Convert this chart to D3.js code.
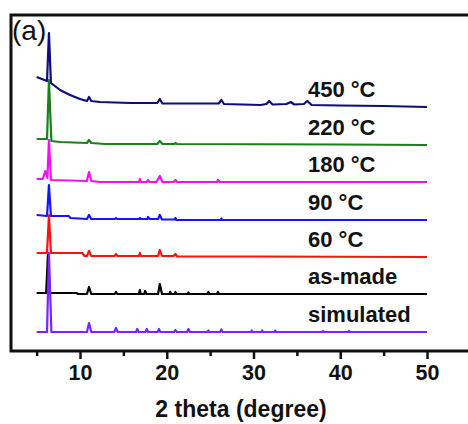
<!DOCTYPE html>
<html>
<head>
<meta charset="utf-8">
<script src="https://cdn.jsdelivr.net/npm/d3@7"></script>
<style>
  body { margin: 0; background: #fff; }
  svg text { font-family: "Liberation Sans", Arial, sans-serif; fill: #111; }
</style>
</head>
<body>
<script>
// sample names, bottom to top
var samples = ["simulated", "as-made", "60 °C", "90 °C", "180 °C", "220 °C", "450 °C"];
var colors = ["#7b22ff", "#000000", "#ff1010", "#1414ff", "#f010f0", "#1b7f1b", "#0d0d80"];
// vertical offset of each pattern (a.u.)
var offsets = [19, 57, 94, 131, 169, 206, 244];

// [2 theta, intensity above offset]
var simulated = [[5,0],[6.2,0],[6.42,79],[6.7,0],[10.8,0],[11.04,9],[11.3,0],[13.95,0],[14.15,4],[14.35,0],
  [16.45,0],[16.6,3],[16.75,0],[17.55,0],[17.7,3],[17.85,0],[18.95,0],[19.1,3],[19.25,0],[20.85,0],[21,2],[21.15,0],
  [22.35,0],[22.5,3],[22.65,0],[24.7,0],[24.8,1.5],[24.9,0],[26.15,0],[26.3,2.5],[26.45,0],[29.7,0],[29.8,1.5],[29.9,0],
  [30.9,0],[31,1.5],[31.1,0],[32.4,0],[32.5,1.5],[32.6,0],[37.9,0],[38,1],[38.1,0],[40.9,0],[41,1],[41.1,0],[50,0]];
var asMade = [[5,1],[6.1,1],[6.3,39],[6.5,1],[9.6,1],[9.8,0],[10.8,0],[11.04,7],[11.3,0],[14,0],[14.15,2],[14.3,0],
  [16.8,0],[16.9,4],[17,0],[17.4,0],[17.5,3],[17.65,0],[19,0],[19.2,10],[19.45,0],[20.3,0],[20.4,2],[20.5,0],
  [20.9,0],[21,2],[21.1,0],[22.4,0],[22.5,1.5],[22.6,0],[24.7,0],[24.8,2],[24.9,0],[25.8,0],[25.9,2],[26,0],[50,0]];
var t60 = [[5,4],[6.2,4],[6.42,42],[6.65,4],[10.3,4],[10.5,1],[10.8,1],[11.04,6],[11.3,1],[14,1],[14.15,3],[14.3,1],
  [16.8,1],[16.9,4],[17,1],[19,1],[19.2,7],[19.45,1],[20.8,1],[21,3],[21.2,0.5],[30,0.5],[50,0]];
var t90 = [[5,5],[6.2,4],[6.42,35],[6.65,4],[8.7,4],[8.9,2],[10.8,1],[11.04,5],[11.3,1],[14,1],[14.15,2],[14.3,1],
  [16.8,1],[16.9,2],[17,1],[17.75,1],[17.85,3],[18,1],[19,1],[19.2,5],[19.45,0.5],[20.9,0.5],[21,2],[21.1,0],
  [26.2,0],[26.3,1.5],[26.4,0],[50,0]];
var t180 = [[5,3],[5.7,3],[6,11],[6.25,4],[6.42,42],[6.65,2],[10.8,1],[11.04,10],[11.3,1],[12.3,0],
  [16.8,0],[16.9,3],[17,0],[17.7,0],[17.85,2],[18,0],[18.8,0],[19.2,6],[19.5,0],[20.8,0],[21,2],[21.2,0],
  [25.8,0],[25.9,2],[26.1,0],[50,0]];
var t220 = [[5,6],[6.2,6],[6.42,65],[6.7,4],[7.7,3],[10.8,2],[11.04,5],[11.3,2],[12.9,1],[18.9,1],[19.2,4],[19.5,1],
  [20.9,1],[21,2],[21.2,1],[40,0.5],[50,0]];
var t450 = [[5,30],[6.2,26],[6.42,74],[6.65,24],[7.7,17],[8.85,12],[10,8],[10.8,6],[11.04,10],[11.3,6],[12.3,5],
  [15.8,4],[18.9,4],[19.2,8],[19.5,3.5],[26,3.5],[26.3,7],[26.6,3],[30.8,2],[31.5,3],[31.8,6],[32.2,2.5],
  [33.8,3],[34.3,5],[34.7,2.5],[35.8,3],[36.2,6],[36.7,2],[40,1.5],[45,1],[50,0]];
var patterns = [simulated, asMade, t60, t90, t180, t220, t450];

var xTicks = [10, 20, 30, 40, 50];
var xMinor = [5, 15, 25, 35, 45];

var width = 468, height = 424;
var svg = d3.select("body").append("svg")
  .attr("width", width)
  .attr("height", height);

var xScale = d3.scaleLinear().domain([10, 50]).range([80, 427]);
var yScale = d3.scaleLinear().domain([0, 336]).range([351, 15]);

// frame (right side runs off the picture)
svg.append("rect")
  .attr("x", 11).attr("y", 15)
  .attr("width", 480).attr("height", 336)
  .attr("fill", "none")
  .attr("stroke", "#111")
  .attr("stroke-width", 3);

var line = d3.line()
  .x(d => xScale(d[0]))
  .y(d => yScale(d[1]));

// draw top pattern first so lower ones sit over it
for (var i = patterns.length - 1; i >= 0; i--) {
  var off = offsets[i];
  svg.append("path")
    .datum(patterns[i].map(p => [p[0], p[1] + off]))
    .attr("fill", "none")
    .attr("stroke", colors[i])
    .attr("stroke-width", 2.2)
    .attr("stroke-linejoin", "round")
    .attr("d", line);
}

// sample labels
svg.selectAll(".label")
  .data(samples)
  .enter()
  .append("text")
  .attr("class", "label")
  .attr("x", 308)
  .attr("y", (d, i) => yScale(offsets[i]) - 10)
  .attr("font-size", 22)
  .attr("font-weight", "bold")
  .text(d => d);

// x axis ticks
var xaxis = d3.axisBottom(xScale).tickValues(xTicks).tickSize(7).tickPadding(6).tickFormat(d3.format("d"));
var gx = svg.append("g")
  .attr("transform", "translate(0," + 352 + ")")
  .call(xaxis);
gx.select(".domain").remove();
gx.selectAll(".tick line").attr("stroke", "#111").attr("stroke-width", 2.5);
gx.selectAll(".tick text")
  .attr("font-size", 21.5)
  .attr("font-weight", "bold")
  .style("font-family", "'Liberation Sans', Arial, sans-serif")
  .attr("fill", "#111");

var xaxisMinor = d3.axisBottom(xScale).tickValues(xMinor).tickSize(4).tickFormat("");
var gm = svg.append("g")
  .attr("transform", "translate(0," + 352 + ")")
  .call(xaxisMinor);
gm.select(".domain").remove();
gm.selectAll(".tick line").attr("stroke", "#111").attr("stroke-width", 2.5);

// x-axis title
svg.append("text")
  .attr("x", 241)
  .attr("y", 417)
  .attr("text-anchor", "middle")
  .attr("font-size", 23)
  .attr("font-weight", "bold")
  .text("2 theta (degree)");

// panel letter
svg.append("text")
  .attr("x", 12)
  .attr("y", 40)
  .attr("font-size", 28)
  .text("(a)");
</script>
</body>
</html>
